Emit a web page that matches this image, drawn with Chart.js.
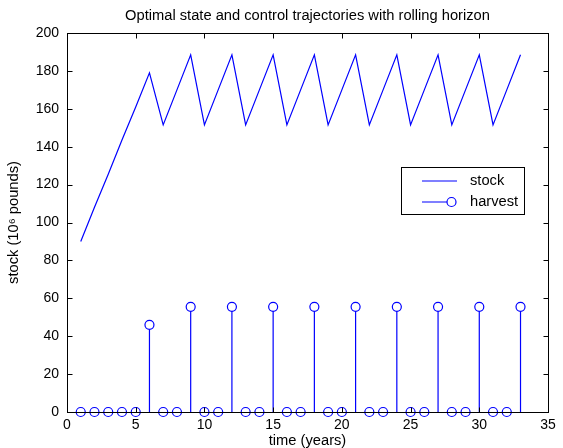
<!DOCTYPE html>
<html>
<head>
<meta charset="utf-8">
<script src="https://cdn.jsdelivr.net/npm/chart.js@4/dist/chart.umd.min.js"></script>
<style>
  html, body { margin: 0; padding: 0; background: #fff; }
  canvas { display: block; }
</style>
</head>
<body>
<canvas id="chart" width="563" height="448"></canvas>
<script>
// data
const years = [1, 2, 3, 4, 5, 6, 7, 8, 9, 10, 11, 12, 13, 14, 15, 16, 17,
  18, 19, 20, 21, 22, 23, 24, 25, 26, 27, 28, 29, 30, 31, 32, 33];
const stock = [90, 108, 125.5, 143.5, 161, 179,
  151.5, 170, 188.5, 151.5, 170, 188.5, 151.5, 170, 188.5,
  151.5, 170, 188.5, 151.5, 170, 188.5, 151.5, 170, 188.5,
  151.5, 170, 188.5, 151.5, 170, 188.5, 151.5, 170, 188.5];
const harvest = [0, 0, 0, 0, 0, 46,
  0, 0, 55.5, 0, 0, 55.5, 0, 0, 55.5,
  0, 0, 55.5, 0, 0, 55.5, 0, 0, 55.5,
  0, 0, 55.5, 0, 0, 55.5, 0, 0, 55.5];
const xTicks = [0, 5, 10, 15, 20, 25, 30, 35];
const yTicks = [0, 20, 40, 60, 80, 100, 120, 140, 160, 180, 200];
const titleText = "Optimal state and control trajectories with rolling horizon";

const FONT = "'Liberation Sans', Arial, Helvetica, sans-serif";
const BLUE = "#0000ff";
const LABEL_SIZE = 14.7;
const TICK_SIZE = 14;

// stems from zero up to each harvest marker
const stemPlugin = {
  id: "stems",
  afterDatasetsDraw(chart) {
    const meta = chart.getDatasetMeta(1);
    const y0 = chart.scales.y.getPixelForValue(0);
    const ctx = chart.ctx;
    ctx.save();
    ctx.strokeStyle = BLUE;
    ctx.lineWidth = 1.2;
    meta.data.forEach((pt, i) => {
      if (harvest[i] <= 0) return;
      ctx.beginPath();
      ctx.moveTo(pt.x, y0);
      ctx.lineTo(pt.x, pt.y + 4.5);
      ctx.stroke();
    });
    ctx.restore();
  }
};

// matlab style box with inward ticks, title over the axes, legend inside
const boxPlugin = {
  id: "box",
  afterDraw(chart) {
    const { ctx, chartArea: a, scales } = chart;
    const L = Math.round(a.left) + 0.5, R = Math.round(a.right) + 0.5;
    const T = Math.round(a.top) + 0.5, B = Math.round(a.bottom) + 0.5;
    ctx.save();
    ctx.strokeStyle = "#000";
    ctx.lineWidth = 1;
    ctx.strokeRect(L, T, R - L, B - T);
    ctx.beginPath();
    xTicks.forEach(v => {
      const x = Math.round(scales.x.getPixelForValue(v)) + 0.5;
      ctx.moveTo(x, B); ctx.lineTo(x, B - 5);
      ctx.moveTo(x, T); ctx.lineTo(x, T + 5);
    });
    yTicks.forEach(v => {
      const y = Math.round(scales.y.getPixelForValue(v)) + 0.5;
      ctx.moveTo(L, y); ctx.lineTo(L + 5, y);
      ctx.moveTo(R, y); ctx.lineTo(R - 5, y);
    });
    ctx.stroke();

    // title, centred over the axes
    ctx.fillStyle = "#000";
    ctx.font = LABEL_SIZE + "px " + FONT;
    ctx.textAlign = "center";
    ctx.textBaseline = "middle";
    ctx.fillText(titleText, (a.left + a.right) / 2, 16);

    // legend
    const lx = 401.5, ly = 167.5, lw = 123, lh = 47;
    ctx.fillStyle = "#fff";
    ctx.fillRect(lx, ly, lw, lh);
    ctx.strokeRect(lx, ly, lw, lh);
    ctx.strokeStyle = BLUE;
    ctx.lineWidth = 1.2;
    ctx.beginPath();
    ctx.moveTo(422, 181); ctx.lineTo(457, 181);
    ctx.moveTo(422, 202); ctx.lineTo(447, 202);
    ctx.stroke();
    ctx.beginPath();
    ctx.arc(451.5, 202, 4.5, 0, Math.PI * 2);
    ctx.stroke();
    ctx.fillStyle = "#000";
    ctx.textAlign = "left";
    ctx.fillText(chart.data.datasets[0].label, 470, 181);
    ctx.fillText(chart.data.datasets[1].label, 470, 202);
    ctx.restore();
  }
};

new Chart(document.getElementById("chart"), {
  type: "line",
  data: {
    datasets: [
      {
        label: "stock",
        data: years.map((x, i) => ({ x: x, y: stock[i] })),
        borderColor: BLUE,
        borderWidth: 1.2,
        pointRadius: 0,
        tension: 0,
        fill: false
      },
      {
        label: "harvest",
        data: years.map((x, i) => ({ x: x, y: harvest[i] })),
        showLine: false,
        borderColor: BLUE,
        backgroundColor: "rgba(0,0,0,0)",
        pointStyle: "circle",
        pointRadius: 4.5,
        pointBorderWidth: 1.2,
        clip: false
      }
    ]
  },
  options: {
    responsive: false,
    animation: false,
    events: [],
    layout: { padding: { top: 33 } },
    plugins: {
      legend: { display: false },
      tooltip: { enabled: false },
      title: { display: false }
    },
    scales: {
      x: {
        type: "linear",
        min: 0,
        max: 35,
        afterBuildTicks: (s) => { s.ticks = xTicks.map(v => ({ value: v })); },
        afterFit: (s) => { s.height = 36; },
        grid: { display: false, drawTicks: false },
        border: { display: false },
        ticks: { color: "#000", padding: 5, maxRotation: 0, font: { family: FONT, size: TICK_SIZE } },
        title: {
          display: true,
          text: "time (years)",
          color: "#000",
          padding: 0,
          font: { family: FONT, size: LABEL_SIZE, lineHeight: 1 }
        }
      },
      y: {
        type: "linear",
        min: 0,
        max: 200,
        afterBuildTicks: (s) => { s.ticks = yTicks.map(v => ({ value: v })); },
        afterFit: (s) => { s.width = 67; },
        grid: { display: false, drawTicks: false },
        border: { display: false },
        ticks: { color: "#000", padding: 8, font: { family: FONT, size: TICK_SIZE } },
        title: {
          display: true,
          text: "stock (10\u2076 pounds)",
          color: "#000",
          padding: { top: 5, bottom: 0 },
          font: { family: FONT, size: LABEL_SIZE }
        }
      },
      y2: {
        type: "linear",
        position: "right",
        min: 0,
        max: 200,
        afterFit: (s) => { s.width = 15; },
        grid: { display: false },
        border: { display: false },
        ticks: { display: false }
      }
    }
  },
  plugins: [stemPlugin, boxPlugin]
});
</script>
</body>
</html>
